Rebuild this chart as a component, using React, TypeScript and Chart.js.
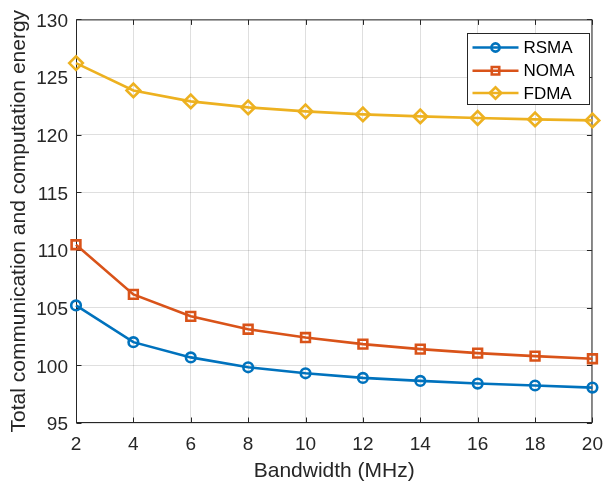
import React, { useEffect, useRef } from 'react';
import { Chart, registerables } from 'chart.js';

Chart.register(...registerables);

const bandwidth = [2, 4, 6, 8, 10, 12, 14, 16, 18, 20];
const rsma = [105.2, 102.01, 100.69, 99.83, 99.31, 98.91, 98.65, 98.42, 98.25, 98.07];
const noma = [110.46, 106.15, 104.25, 103.13, 102.41, 101.84, 101.41, 101.06, 100.8, 100.57];
const fdma = [126.21, 123.84, 122.89, 122.37, 122.02, 121.76, 121.59, 121.45, 121.33, 121.24];

const xTicks = [2, 4, 6, 8, 10, 12, 14, 16, 18, 20];
const yTicks = [95, 100, 105, 110, 115, 120, 125, 130];

const seriesNames = ['RSMA', 'NOMA', 'FDMA'];
const seriesColors = ['#0072BD', '#D95319', '#EDB120'];
const seriesMarkers = ['circle', 'rect', 'rectRot'];
const seriesRadius = [4.8, 6.2, 6.8];

const xTitle = 'Bandwidth (MHz)';
const yTitle = 'Total communication and computation energy';

const FONT = '"Liberation Sans", Arial, Helvetica, sans-serif';
const AXIS = '#262626';
const GRID = 'rgba(38,38,38,0.15)';
const LW = 2.6;

function drawMarker(ctx: CanvasRenderingContext2D, style: string, x: number, y: number, r: number) {
  ctx.beginPath();
  if (style === 'circle') {
    ctx.arc(x, y, r, 0, Math.PI * 2);
  } else if (style === 'rect') {
    const s = r * Math.SQRT1_2;
    ctx.rect(x - s, y - s, 2 * s, 2 * s);
  } else {
    ctx.moveTo(x - r, y);
    ctx.lineTo(x, y - r);
    ctx.lineTo(x + r, y);
    ctx.lineTo(x, y + r);
    ctx.closePath();
  }
  ctx.stroke();
}

const framePlugin = {
  id: 'matlabFrame',
  beforeDatasetsDraw(chart: any) {
    const { ctx, chartArea } = chart;
    const { left, right, top, bottom } = chartArea;
    const xs = chart.scales.x;
    const ys = chart.scales.y;
    ctx.save();
    ctx.strokeStyle = AXIS;
    ctx.lineWidth = 1;
    ctx.strokeRect(left + 0.5, top + 0.5, right - left - 1, bottom - top - 1);
    const tl = 5;
    ctx.beginPath();
    for (const v of xTicks) {
      const px = Math.round(xs.getPixelForValue(v)) + 0.5;
      ctx.moveTo(px, bottom - 0.5);
      ctx.lineTo(px, bottom - 0.5 - tl);
      ctx.moveTo(px, top + 0.5);
      ctx.lineTo(px, top + 0.5 + tl);
    }
    for (const v of yTicks) {
      const py = Math.round(ys.getPixelForValue(v)) + 0.5;
      ctx.moveTo(left + 0.5, py);
      ctx.lineTo(left + 0.5 + tl, py);
      ctx.moveTo(right - 0.5, py);
      ctx.lineTo(right - 0.5 - tl, py);
    }
    ctx.stroke();
    ctx.restore();
  },
  afterDraw(chart: any) {
    const { ctx, chartArea } = chart;
    const { right, top } = chartArea;
    const bw = 122;
    const bh = 71;
    const bx = Math.round(right - 3 - bw) + 0.5;
    const by = Math.round(top + 14) + 0.5;
    ctx.save();
    ctx.fillStyle = '#ffffff';
    ctx.fillRect(bx, by, bw, bh);
    ctx.strokeStyle = AXIS;
    ctx.lineWidth = 1;
    ctx.strokeRect(bx, by, bw, bh);
    const rows = [14, 37.3, 59.5];
    ctx.font = `17px ${FONT}`;
    ctx.textBaseline = 'middle';
    ctx.textAlign = 'left';
    seriesNames.forEach((name, i) => {
      const ry = by + rows[i];
      ctx.strokeStyle = seriesColors[i];
      ctx.lineWidth = LW;
      ctx.beginPath();
      ctx.moveTo(bx + 5, ry);
      ctx.lineTo(bx + 51, ry);
      ctx.stroke();
      drawMarker(ctx, seriesMarkers[i], bx + 28, ry, seriesRadius[i] * 0.85);
      ctx.fillStyle = '#000000';
      ctx.fillText(name, bx + 56, ry + 1);
    });
    ctx.restore();
  },
};

export default function App() {
  const ref = useRef<HTMLCanvasElement | null>(null);

  useEffect(() => {
    document.body.style.margin = '0';
    const canvas = ref.current;
    if (!canvas) return;
    const seriesValues = [rsma, noma, fdma];
    const chart = new Chart(canvas, {
      type: 'line',
      data: {
        datasets: seriesNames.map((name, i) => ({
          label: name,
          data: bandwidth.map((b, j) => ({ x: b, y: seriesValues[i][j] })),
          borderColor: seriesColors[i],
          backgroundColor: 'transparent',
          borderWidth: LW,
          pointStyle: seriesMarkers[i] as any,
          pointRadius: seriesRadius[i],
          pointBorderWidth: LW,
          pointBorderColor: seriesColors[i],
          pointBackgroundColor: 'rgba(0,0,0,0)',
          tension: 0,
          clip: false as any,
        })),
      },
      options: {
        animation: false,
        responsive: false,
        devicePixelRatio: 1,
        layout: { padding: { top: 16, right: 16, bottom: 0, left: 0 } },
        plugins: {
          legend: { display: false },
          tooltip: { enabled: false },
        },
        scales: {
          x: {
            type: 'linear',
            min: 2,
            max: 20,
            afterBuildTicks: (axis: any) => {
              axis.ticks = xTicks.map((v) => ({ value: v }));
            },
            afterFit: (s: any) => {
              s.height = 62;
            },
            ticks: {
              autoSkip: false,
              maxRotation: 0,
              padding: 10,
              color: AXIS,
              font: { family: FONT, size: 19 },
            },
            grid: { color: GRID, drawTicks: false, lineWidth: 1 },
            border: { display: false },
            title: {
              display: true,
              text: xTitle,
              color: AXIS,
              font: { family: FONT, size: 21 },
              padding: { top: 0, bottom: 1.4 },
            },
          },
          y: {
            type: 'linear',
            min: 95,
            max: 130,
            afterBuildTicks: (axis: any) => {
              axis.ticks = yTicks.map((v) => ({ value: v }));
            },
            afterFit: (s: any) => {
              s.width = 76;
            },
            ticks: {
              autoSkip: false,
              padding: 8,
              labelOffset: 2,
              color: AXIS,
              font: { family: FONT, size: 19 },
            },
            grid: { color: GRID, drawTicks: false, lineWidth: 1 },
            border: { display: false },
            title: {
              display: true,
              text: yTitle,
              color: AXIS,
              font: { family: FONT, size: 21 },
              padding: { top: 6.6, bottom: 0 },
            },
          },
        },
      },
      plugins: [framePlugin],
    });
    return () => chart.destroy();
  }, []);

  return (
    <div style={{ width: 613, height: 485 }}>
      <canvas ref={ref} width={613} height={485} style={{ display: 'block', width: 613, height: 485 }} />
    </div>
  );
}
